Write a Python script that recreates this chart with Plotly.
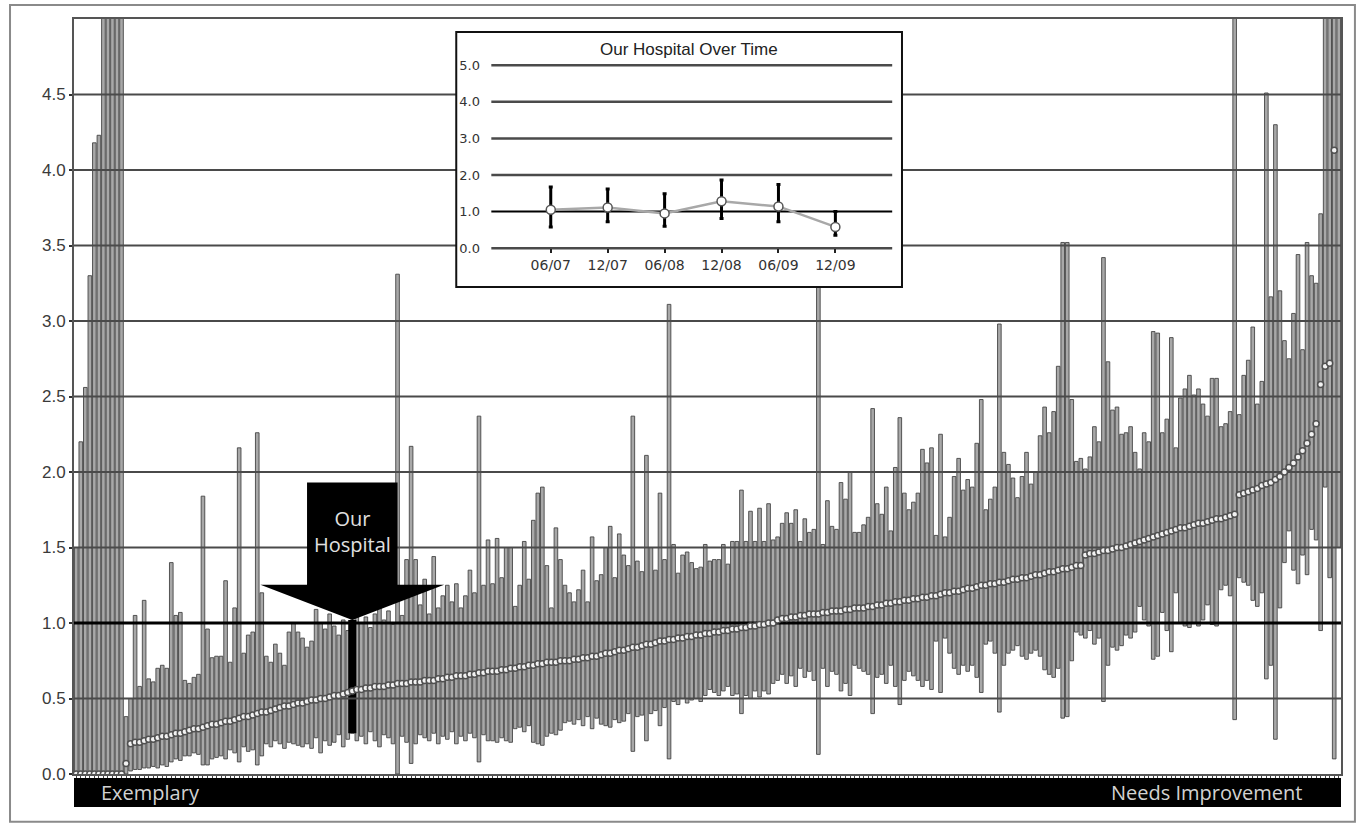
import plotly.graph_objects as go

# ---------------- data: main caterpillar chart ----------------
N = 280
HOSP = 61  # index of "Our Hospital"

point = [
    0, 0, 0, 0, 0, 0, 0, 0, 0, 0, 0,
    0.07,
    0.20, 0.21, 0.21, 0.22, 0.23, 0.23, 0.24, 0.25, 0.25, 0.26,
    0.27, 0.27, 0.28, 0.29, 0.30, 0.30, 0.31, 0.32, 0.33, 0.33,
    0.34, 0.35, 0.35, 0.36, 0.37, 0.38, 0.38, 0.39, 0.40, 0.41,
    0.41, 0.42, 0.43, 0.44, 0.45, 0.45, 0.46, 0.47, 0.47, 0.48,
    0.49, 0.49, 0.50, 0.50, 0.51, 0.52, 0.52, 0.53, 0.54, 0.55,
    0.56, 0.56, 0.57, 0.57, 0.58, 0.58, 0.58, 0.59, 0.59, 0.60,
    0.60, 0.60, 0.61, 0.61, 0.61, 0.62, 0.62, 0.62, 0.63, 0.63,
    0.64, 0.64, 0.65, 0.65, 0.65, 0.66, 0.66, 0.67, 0.67, 0.68,
    0.68, 0.68, 0.69, 0.69, 0.70, 0.70, 0.71, 0.71, 0.72, 0.72,
    0.73, 0.73, 0.74, 0.74, 0.74, 0.75, 0.75, 0.75, 0.76, 0.76,
    0.77, 0.77, 0.78, 0.78, 0.79, 0.80, 0.80, 0.81, 0.82, 0.82,
    0.83, 0.84, 0.84, 0.85, 0.86, 0.86, 0.87, 0.88, 0.88, 0.89,
    0.89, 0.90, 0.90, 0.91, 0.91, 0.92, 0.92, 0.93, 0.93, 0.94,
    0.94, 0.95, 0.95, 0.96, 0.96, 0.97, 0.97, 0.98, 0.98, 0.99,
    0.99, 1.00, 1.00, 1.02, 1.03, 1.03, 1.04, 1.04, 1.05, 1.05,
    1.06, 1.06, 1.06, 1.07, 1.07, 1.08, 1.08, 1.08, 1.09, 1.09,
    1.10, 1.10, 1.10, 1.11, 1.11, 1.12, 1.12, 1.13, 1.13, 1.14,
    1.14, 1.15, 1.15, 1.16, 1.16, 1.17, 1.17, 1.18, 1.18, 1.19,
    1.20, 1.20, 1.21, 1.21, 1.22, 1.23, 1.23, 1.24, 1.25, 1.25,
    1.26, 1.26, 1.27, 1.27, 1.28, 1.29, 1.29, 1.30, 1.30, 1.31,
    1.32, 1.32, 1.33, 1.34, 1.34, 1.35, 1.36, 1.36, 1.37, 1.38,
    1.38, 1.45, 1.46, 1.46, 1.47, 1.48, 1.48, 1.49, 1.50, 1.50,
    1.51, 1.52, 1.53, 1.54, 1.55, 1.56, 1.57, 1.58, 1.59, 1.60,
    1.61, 1.62, 1.63, 1.63, 1.64, 1.65, 1.66, 1.66, 1.67, 1.68,
    1.69, 1.69, 1.70, 1.71, 1.72,
    1.85, 1.86, 1.87, 1.88, 1.89, 1.91, 1.92, 1.93, 1.95, 1.97,
    2.00, 2.03, 2.06, 2.10, 2.14, 2.19, 2.25,
    2.32, 2.58, 2.70, 2.72, 4.13, 5.40,
]

lower = [
    0, 0, 0, 0, 0, 0, 0, 0, 0, 0, 0,
    0.00,
    .02, .03, .03, .04, .04, .05, .04, .06, .05, .08,
    .10, .09, .12, .12, .14, .13, .06, .06, .10, .11,
    .12, .10, .16, .14, .08, .18, .15, .16, .06, .12,
    .20, .18, .22, .20, .17, .21, .20, .19, .18, .20,
    .17, .24, .14, .22, .19, .21, .26, .18, .23, .27,
    .22, .25, .20, .28, .22, .18, .26, .24, .20, .00,
    .25, .21, .07, .20, .26, .24, .22, .27, .20, .25,
    .23, .28, .20, .25, .22, .27, .24, .08, .26, .22,
    .22, .21, .24, .22, .21, .30, .31, .28, .32, .21,
    .20, .19, .25, .27, .26, .29, .34, .35, .33, .36,
    .32, .38, .30, .37, .33, .32, .31, .36, .34, .35,
    .40, .15, .38, .39, .22, .40, .42, .32, .44, .10,
    .48, .46, .50, .47, .49, .50, .48, .52, .56, .54,
    .52, .55, .58, .52, .53, .40, .52, .50, .55, .51,
    .55, .53, .60, .62, .66, .60, .65, .58, .70, .64,
    .68, .62, .13, .70, .58, .68, .66, .55, .60, .52,
    .72, .70, .68, .66, .40, .64, .66, .60, .72, .58,
    .46, .62, .68, .65, .62, .58, .62, .56, .88, .54,
    .90, .80, .70, .66, .72, .68, .72, .64, .54, .86,
    .88, .80, .41, .72, .80, .82, .85, .78, .76, .80,
    .82, .78, .69, .66, .64, .70, .37, .38, .75, .94,
    .92, .90, .95, .86, .90, .48, .72, .84, .82, .85,
    .92, .90, .94, 1.11, 1.02, .98, .76, .78, 1.07, .95,
    .81, 1.20, 1.00, .98, .97, 1.00, .98, 1.02, 1.12, .99,
    .98, 1.22, 1.25, 1.18, .36,
    1.30, 1.27, 1.25, 1.15, 1.11, 1.20, .63, .72, .23, 1.10,
    1.40, 1.61, 1.35, 1.26, 1.45, 1.32, 1.62,
    1.55, .95, 1.90, 1.30, .10, 1.50,
]

upper = [
    1.50, 2.20, 2.56, 3.30, 4.18, 4.23, 5.5, 5.5, 5.5, 5.5, 5.5,
    0.38,
    .50, 1.05, .58, 1.15, .63, .61, .70, .72, .70, 1.40,
    1.05, 1.07, .62, .60, .64, .66, 1.84, .96, .77, .78,
    .78, 1.28, .74, 1.10, 2.16, .80, .92, .94, 2.26, 1.20,
    .78, .74, .86, .80, .72, .94, 1.00, .94, .90, .84,
    .88, 1.09, 1.00, .96, 1.06, .98, .92, 1.02, .95, 1.02,
    1.08, 1.00, 1.04, .97, 1.06, 1.10, 1.02, 1.08, .99, 3.31,
    1.05, 1.42, 2.17, 1.42, 1.12, 1.29, 1.06, 1.44, 1.10, 1.18,
    1.25, 1.14, 1.26, 1.10, 1.18, 1.35, 1.20, 2.37, 1.25, 1.55,
    1.26, 1.56, 1.30, 1.50, 1.50, 1.11, 1.25, 1.54, 1.29, 1.68,
    1.86, 1.90, 1.38, 1.10, 1.63, 1.42, 1.25, 1.20, 1.14, 1.22,
    1.35, 1.14, 1.57, 1.28, 1.32, 1.50, 1.64, 1.30, 1.59, 1.45,
    1.38, 2.37, 1.41, 1.34, 2.11, 1.50, 1.35, 1.86, 1.42, 3.11,
    1.52, 1.33, 1.45, 1.47, 1.40, 1.36, 1.37, 1.52, 1.41, 1.42,
    1.42, 1.52, 1.39, 1.54, 1.54, 1.88, 1.54, 1.74, 1.54, 1.76,
    1.54, 1.79, 1.55, 1.57, 1.66, 1.73, 1.66, 1.75, 1.54, 1.69,
    1.60, 1.62, 3.25, 1.52, 1.81, 1.64, 1.62, 1.93, 1.82, 2.00,
    1.60, 1.60, 1.65, 1.70, 2.42, 1.79, 1.72, 1.90, 1.61, 2.03,
    2.36, 1.86, 1.75, 1.80, 1.86, 2.15, 2.06, 2.16, 1.58, 2.25,
    1.57, 1.70, 1.97, 2.09, 1.88, 1.95, 1.90, 2.19, 2.48, 1.75,
    1.82, 1.90, 2.98, 2.13, 2.05, 1.96, 1.83, 1.97, 2.13, 1.92,
    2.00, 2.24, 2.43, 2.26, 2.40, 2.70, 3.52, 3.52, 2.48, 2.07,
    2.09, 2.02, 2.10, 2.30, 2.20, 3.42, 2.73, 2.41, 2.43, 2.25,
    2.26, 2.30, 2.13, 2.02, 2.26, 2.20, 2.93, 2.92, 2.26, 2.35,
    2.89, 2.16, 2.49, 2.55, 2.64, 2.51, 2.55, 2.45, 2.37, 2.62,
    2.62, 2.30, 2.32, 2.40, 5.50,
    2.38, 2.64, 2.74, 2.96, 2.45, 2.60, 4.51, 3.16, 4.30, 3.20,
    2.87, 2.75, 3.05, 3.44, 2.81, 3.52, 3.30,
    3.25, 3.71, 5.50, 5.50, 5.50, 5.50,
]

assert len(point) == N and len(lower) == N and len(upper) == N

y_ticks = [0.0, 0.5, 1.0, 1.5, 2.0, 2.5, 3.0, 3.5, 4.0, 4.5]
benchmark = 1.0

# ---------------- data: inset "Our Hospital Over Time" ----------------
periods = ["06/07", "12/07", "06/08", "12/08", "06/09", "12/09"]
inset_point = [1.05, 1.11, 0.95, 1.28, 1.14, 0.58]
inset_low = [0.58, 0.72, 0.60, 0.81, 0.72, 0.35]
inset_high = [1.67, 1.62, 1.49, 1.86, 1.74, 1.00]
inset_ticks = [0, 1, 2, 3, 4, 5]

# ---------------- figure ----------------
idx = list(range(N))
fig = go.Figure()

# confidence-interval bars
fig.add_trace(go.Bar(
    x=idx, base=lower, y=[u - l for u, l in zip(upper, lower)],
    width=0.8, marker=dict(color="#a8a8a8", line=dict(color="#454545", width=0.9)),
    hoverinfo="skip", xaxis="x", yaxis="y"))

# gridlines drawn above bars
gx, gy = [], []
for v in y_ticks[1:]:
    if v == benchmark:
        continue
    gx += [-0.5, N - 0.5, None]
    gy += [v, v, None]
fig.add_trace(go.Scatter(x=gx, y=gy, mode="lines", line=dict(color="#4a4a4a", width=2),
                         hoverinfo="skip", xaxis="x", yaxis="y"))
fig.add_trace(go.Scatter(x=[-0.5, N - 0.5], y=[benchmark, benchmark], mode="lines",
                         line=dict(color="black", width=3), hoverinfo="skip",
                         xaxis="x", yaxis="y"))

# our hospital's interval in black
fig.add_trace(go.Bar(
    x=[HOSP], base=[lower[HOSP]], y=[upper[HOSP] - lower[HOSP]], width=1.8,
    marker=dict(color="black", line=dict(width=0)), hoverinfo="skip",
    xaxis="x", yaxis="y"))

# point estimates
fig.add_trace(go.Scatter(
    x=idx, y=point, mode="markers",
    marker=dict(size=6, color="#f2f2f2", line=dict(color="#505050", width=1.5)),
    hoverinfo="skip", xaxis="x", yaxis="y"))

# ---- inset traces ----
ix = list(range(len(periods)))
igx, igy = [], []
for v in inset_ticks:
    if v == 1:
        continue
    igx += [-1.044, 5.998, None]
    igy += [v, v, None]
fig.add_trace(go.Scatter(x=igx, y=igy, mode="lines", line=dict(color="#4a4a4a", width=2.5),
                         hoverinfo="skip", xaxis="x2", yaxis="y2"))
fig.add_trace(go.Scatter(x=[-1.044, 5.998], y=[1, 1], mode="lines",
                         line=dict(color="black", width=2), hoverinfo="skip",
                         xaxis="x2", yaxis="y2"))
fig.add_trace(go.Scatter(x=ix, y=inset_point, mode="lines",
                         line=dict(color="#a8a8a8", width=2.5), hoverinfo="skip",
                         xaxis="x2", yaxis="y2"))
fig.add_trace(go.Scatter(
    x=ix, y=inset_point, mode="markers",
    error_y=dict(type="data", symmetric=False,
                 array=[h - p for h, p in zip(inset_high, inset_point)],
                 arrayminus=[p - l for p, l in zip(inset_point, inset_low)],
                 color="black", thickness=3, width=2),
    marker=dict(size=9, color="white", line=dict(color="#555555", width=1.5)),
    hoverinfo="skip", xaxis="x2", yaxis="y2"))

# ---- arrow pointing to our hospital ----
hx = HOSP
tip = upper[HOSP]
base_y = tip + 0.233
top_y = tip + 0.91
arrow_path = (f"M {hx-10},{top_y} L {hx+10},{top_y} L {hx+10},{base_y} "
              f"L {hx+20.3},{base_y} L {hx},{tip} L {hx-20.3},{base_y} "
              f"L {hx-10},{base_y} Z")

shapes = [
    dict(type="path", path=arrow_path, xref="x", yref="y", fillcolor="black",
         line=dict(width=0), layer="above"),
    # black category band at bottom
    dict(type="rect", xref="paper", yref="paper", x0=0, x1=1, y0=-0.0437, y1=-0.0053,
         fillcolor="black", line=dict(width=0), layer="above"),
    # inset border
    dict(type="rect", xref="paper", yref="paper", x0=0.3017, x1=0.6535, y0=0.645, y1=0.9828,
         line=dict(color="#111111", width=2), layer="above"),
    # outer frame
    dict(type="rect", xref="paper", yref="paper", x0=-0.0505, x1=1.011, y0=-0.0632, y1=1.0185,
         line=dict(color="#8a8a8a", width=2), layer="above"),
]

annotations = [
    dict(text="Our<br>Hospital", x=hx, y=tip + 0.585, xref="x", yref="y", showarrow=False,
         xanchor="center", yanchor="middle",
         font=dict(family="Open Sans", size=20, color="#e0e0e0")),
    dict(text="Exemplary", x=0.060, y=-0.0245, xref="paper", yref="paper", showarrow=False,
         xanchor="center", yanchor="middle",
         font=dict(family="Open Sans", size=20, color="#d2d2d2")),
    dict(text="Needs Improvement", x=0.894, y=-0.0245, xref="paper", yref="paper",
         showarrow=False, xanchor="center", yanchor="middle",
         font=dict(family="Open Sans", size=20, color="#d2d2d2")),
    dict(text="Our Hospital Over Time", x=0.4854, y=0.959, xref="paper", yref="paper",
         showarrow=False, xanchor="center", yanchor="middle",
         font=dict(family="Liberation Sans", size=17, color="#222222")),
]

fig.update_layout(
    width=1363, height=824,
    margin=dict(l=74, r=22, t=19, b=50),
    paper_bgcolor="white", plot_bgcolor="white",
    showlegend=False, barmode="overlay",
    font=dict(family="Liberation Sans, Arial, sans-serif", color="#333333"),
    xaxis=dict(domain=[0, 1], range=[-0.5, N - 0.5], tickvals=idx, showticklabels=False,
               ticks="outside", ticklen=5, tickwidth=1, tickcolor="#444444",
               showgrid=False, zeroline=False, showline=True, linecolor="#555555",
               linewidth=2, mirror=True),
    yaxis=dict(domain=[0, 1], range=[0, 5.0], tickvals=y_ticks, tickformat=".1f",
               ticks="outside", ticklen=3, tickwidth=2, tickcolor="#333333",
               showgrid=False, zeroline=False, showline=True, linecolor="#555555",
               linewidth=2, mirror=True, tickfont=dict(size=17, color="#3a3a3a")),
    xaxis2=dict(domain=[0.3017, 0.6535], anchor="free", position=0.697,
                range=[-1.66, 6.17], tickvals=ix, ticktext=periods,
                ticks="outside", ticklen=4, tickwidth=2, tickcolor="#222222",
                showline=False, showgrid=False, zeroline=False,
                tickfont=dict(family="DejaVu Sans", size=14, color="#333333")),
    yaxis2=dict(domain=[0.645, 0.9828], anchor="x2", range=[-1.063, 5.91],
                tickvals=inset_ticks, tickformat=".1f", ticklabelposition="inside",
                ticks="", showline=False, showgrid=False, zeroline=False,
                tickfont=dict(family="DejaVu Sans", size=13, color="#333333")),
    shapes=shapes,
    annotations=annotations,
)

fig.write_html("out.html", config={"displayModeBar": False},
               post_script="document.body.style.margin='0px';")
